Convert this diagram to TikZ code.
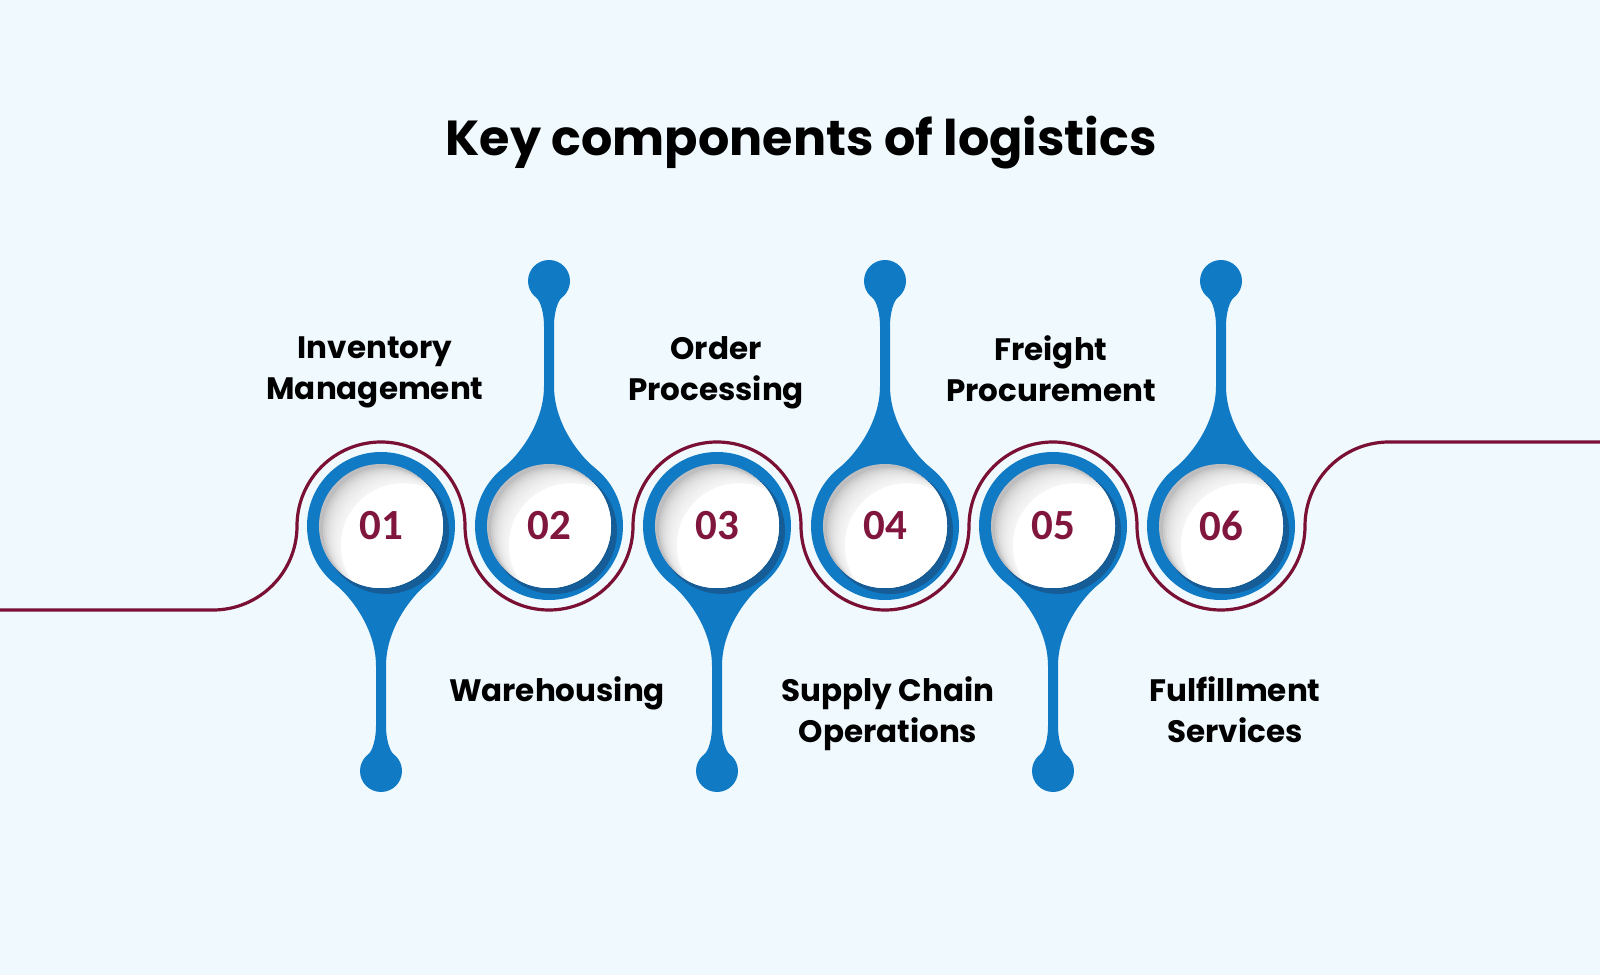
\documentclass[tikz,border=0pt]{standalone}
\usepackage{fontspec}
\newfontfamily\labelfont{Poppins}
\newfontfamily\numfont{Carlito}
\definecolor{bgc}{RGB}{239,249,254}
\definecolor{dripblue}{RGB}{16,122,196}
\definecolor{ringdark}{RGB}{22,92,150}
\definecolor{maroonline}{RGB}{122,16,52}
\definecolor{numc}{RGB}{128,22,62}
\definecolor{discgray}{RGB}{190,190,192}
\tikzset{
  drip/.pic={
    \fill[dripblue] (0,0) circle[radius=74];
    \fill[dripblue] (-45.6,-58.3) .. controls (-33.8,-67.5) and (-5,-100) .. (-5,-140)
      -- (-5,-200) .. controls (-5,-212) and (-8.2,-224.8) .. (-12.9,-228.5)
      -- (12.9,-228.5) .. controls (8.2,-224.8) and (5,-212) .. (5,-200)
      -- (5,-140) .. controls (5,-100) and (33.8,-67.5) .. (45.6,-58.3) -- cycle;
    \fill[dripblue] (0,-245) circle[radius=21];
  },
  wave/.style={draw=maroonline, line width=1.6pt},
  numtext/.style={font=\numfont\bfseries\fontsize{21.5}{24}\selectfont, text=numc, inner sep=0pt},
  lbl/.style={font=\labelfont\bfseries\fontsize{15.5}{20.5}\selectfont, text=black, align=center, inner sep=0pt},
  ttl/.style={font=\labelfont\bfseries\fontsize{24.6}{30}\selectfont, text=black, inner sep=0pt}
}
\begin{document}
\begin{tikzpicture}[x=0.5pt,y=0.5pt]
\fill[bgc] (0,0) rectangle (1600,975);
\useasboundingbox (0,0) rectangle (1600,975);

\node[ttl] (title) at (801,832) {Key components of logistics};

% maroon wave
\draw[wave] (0,365) -- (213,365)
  arc[start angle=-90,end angle=0,radius=84]
  arc[start angle=180,end angle=0,radius=84]
  arc[start angle=180,end angle=360,radius=84]
  arc[start angle=180,end angle=0,radius=84]
  arc[start angle=180,end angle=360,radius=84]
  arc[start angle=180,end angle=0,radius=84]
  arc[start angle=180,end angle=360,radius=84]
  arc[start angle=180,end angle=90,radius=84]
  -- (1600,533);

% drips
\foreach \cx/\s in {381/1,549/-1,717/1,885/-1,1053/1,1221/-1}
  \pic[yscale=\s] at (\cx,449) {drip};

% discs with inner shadow
\foreach \cx in {381,549,717,885,1053,1221}{
  \fill[ringdark] (\cx+5,444) circle[radius=63];
  \begin{scope}
    \clip (\cx,449) circle[radius=62];
    \fill[discgray] (\cx,449) circle[radius=62];
    \foreach \k in {2,...,10}
      \fill[white, opacity=0.2] (\cx+2.0*\k,449-1.75*\k) circle[radius=62];
    \fill[white] (\cx+22,429.75) circle[radius=62];
  \end{scope}
}

\node[numtext] (n1) at (381,449) {01};
\node[numtext] (n2) at (549,449) {02};
\node[numtext] (n3) at (717,449) {03};
\node[numtext] (n4) at (885,449) {04};
\node[numtext] (n5) at (1053,449) {05};
\node[numtext] (n6) at (1221,449) {06};

\node[lbl] (l1) at (375,602.5) {Inventory\\Management};
\node[lbl] (l3) at (716,602.5) {Order\\Processing};
\node[lbl] (l5) at (1051,606.5) {Freight\\Procurement};
\node[lbl] (l2) at (557,282) {Warehousing};
\node[lbl] (l4) at (888,261.5) {Supply Chain\\Operations};
\node[lbl] (l6) at (1235,265.5) {Fulfillment\\Services};
\end{tikzpicture}
\end{document}
